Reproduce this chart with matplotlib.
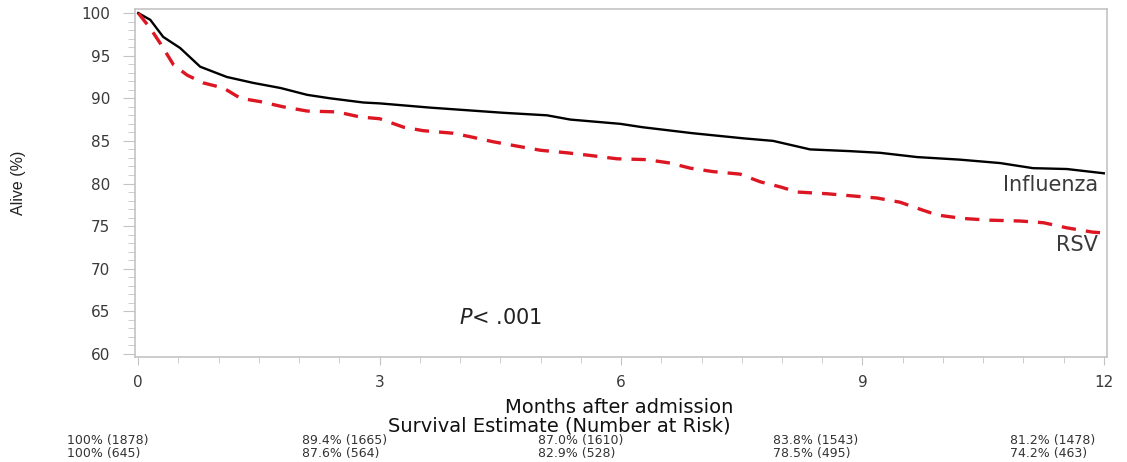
import matplotlib.pyplot as plt
from matplotlib.ticker import MultipleLocator

# Kaplan-Meier curves (months, % alive)
flu_t = [0, 0.15, 0.31, 0.52, 0.77, 1.1, 1.43, 1.77, 2.1, 2.38, 2.8, 3.0, 3.63,
         4.53, 5.08, 5.37, 5.99, 6.27, 6.89, 7.52, 7.89, 8.35, 8.84, 9.22, 9.68,
         10.21, 10.71, 11.12, 11.54, 12.0]
flu_s = [100, 99.2, 97.2, 95.9, 93.7, 92.5, 91.8, 91.2, 90.4, 90.0, 89.5, 89.4, 88.9,
         88.3, 88.0, 87.5, 87.0, 86.6, 85.9, 85.3, 85.0, 84.0, 83.8, 83.6, 83.1,
         82.8, 82.4, 81.8, 81.7, 81.2]

rsv_t = [0, 0.15, 0.27, 0.44, 0.61, 0.81, 1.06, 1.27, 1.52, 1.8, 2.1, 2.47, 2.76,
         3.0, 3.3, 3.54, 3.91, 4.12, 4.41, 4.7, 5.0, 5.33, 5.61, 5.95, 6.32, 6.61,
         6.86, 7.14, 7.48, 7.73, 7.98, 8.19, 8.56, 8.93, 9.18, 9.47, 9.68, 9.93,
         10.25, 10.58, 10.96, 11.25, 11.54, 11.86, 12.0]
rsv_s = [100, 98.2, 96.5, 93.9, 92.7, 91.8, 91.2, 90.0, 89.6, 89.0, 88.5, 88.4, 87.8,
         87.6, 86.6, 86.2, 85.9, 85.5, 84.9, 84.4, 83.9, 83.6, 83.3, 82.9, 82.8, 82.4,
         81.8, 81.4, 81.1, 80.2, 79.6, 79.0, 78.8, 78.5, 78.3, 77.8, 77.1, 76.3,
         75.9, 75.7, 75.6, 75.4, 74.8, 74.3, 74.2]

risk_flu = ["100% (1878)", "89.4% (1665)", "87.0% (1610)", "83.8% (1543)", "81.2% (1478)"]
risk_rsv = ["100% (645)", "87.6% (564)", "82.9% (528)", "78.5% (495)", "74.2% (463)"]
risk_x = [0.0595, 0.268, 0.477, 0.686, 0.896]

plt.rcParams['font.family'] = ['DejaVu Sans']

fig = plt.figure(figsize=(11.27, 4.62), dpi=100)
ax = fig.add_axes([0.1198, 0.2273, 0.8625, 0.7532])

ax.plot(flu_t, flu_s, color='black', lw=1.7)
ax.plot(rsv_t, rsv_s, color='#dc1622', lw=2.4, dashes=(4.3, 3.0))

ax.set_xlim(-0.04, 12.04)
ax.set_ylim(59.65, 100.47)
ax.set_xticks([0, 3, 6, 9, 12])
ax.set_yticks(range(60, 101, 5))
ax.xaxis.set_minor_locator(MultipleLocator(0.5))
ax.yaxis.set_minor_locator(MultipleLocator(1))

gray = '#c4c4c4'
for s in ax.spines.values():
    s.set_color(gray)
    s.set_linewidth(1.2)
ax.tick_params(which='both', color=gray, labelsize=11, labelcolor='#3a3a3a')
ax.tick_params(axis='y', which='major', length=9, pad=9)
ax.tick_params(axis='y', which='minor', length=5)
ax.tick_params(axis='x', which='major', length=6, pad=7)
ax.tick_params(axis='x', which='minor', length=4)

ax.set_ylabel('Alive (%)', fontsize=11.5, color='#222222', labelpad=40,
              family='Liberation Sans')
ax.text(11.93, 79.8, 'Influenza', ha='right', va='center', fontsize=15, color='#3a3a3a')
ax.text(11.93, 72.8, 'RSV', ha='right', va='center', fontsize=15, color='#3a3a3a')
ax.text(4.51, 64.2, r'$\it{P}$< .001', ha='center', va='center', fontsize=15, color='#222222')

fig.text(0.549, 0.119, 'Months after admission', ha='center', va='center', fontsize=14,
         color='#111111')
fig.text(0.496, 0.079, 'Survival Estimate (Number at Risk)', ha='center', va='center',
         fontsize=14, color='#111111')
for x, a, b in zip(risk_x, risk_flu, risk_rsv):
    fig.text(x, 0.0465, a, ha='left', va='center', fontsize=9, color='#333333')
    fig.text(x, 0.0190, b, ha='left', va='center', fontsize=9, color='#333333')

fig.savefig('out.png', dpi=100)
